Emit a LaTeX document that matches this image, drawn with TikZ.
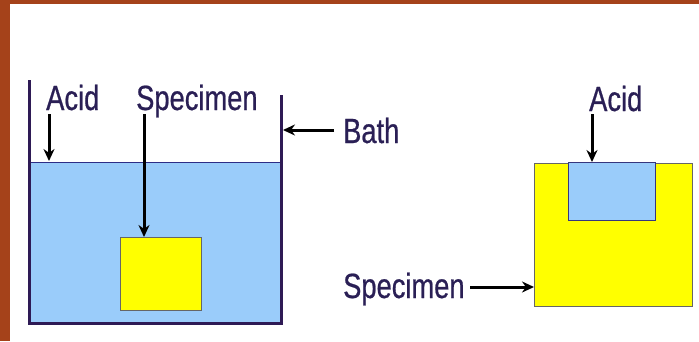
\documentclass[tikz,border=0pt]{standalone}
\usepackage{fontspec}
\newfontfamily\labfont[FakeStretch=0.78,FakeBold=0.6]{Liberation Sans}
\usetikzlibrary{arrows.meta}
\definecolor{brownframe}{HTML}{A5421A}
\definecolor{acidblue}{HTML}{9ACCFA}
\definecolor{specyellow}{HTML}{FFFF00}
\definecolor{labcol}{HTML}{2A1F55}
\definecolor{wallcol}{HTML}{2E1A55}
\tikzset{
  lab/.style={font=\labfont\fontsize{35}{35}\selectfont, text=labcol, inner sep=0pt, anchor=base west},
  ptr/.style={draw=black, line width=3pt, -{Stealth[length=12pt,width=11pt]}},
  wall/.style={draw=wallcol, line width=3pt},
  yellowbox/.style={fill=specyellow, draw=gray!80!black, line width=0.8pt, inner sep=0pt, anchor=north west},
  bluebox/.style={fill=acidblue, draw=gray!60!blue!70!black, line width=0.8pt, inner sep=0pt, anchor=north west}
}
\begin{document}
\begin{tikzpicture}[x=1pt,y=-1pt]
\useasboundingbox (0,0) rectangle (699,341);
\fill[white] (0,0) rectangle (699,341);
% frame
\fill[brownframe] (0,0) rectangle (699,4);
\fill[brownframe] (0,0) rectangle (10,341);
% bath liquid
\node[fill=acidblue, inner sep=0pt, minimum width=251pt, minimum height=161pt, anchor=north west] (liquid) at (30,162) {};
\draw[draw=gray!50!blue!70!black, line width=1pt] (liquid.north west) -- (liquid.north east);
% specimen in bath
\node[yellowbox, minimum width=81pt, minimum height=73pt] (spec1) at (120,237) {};
% walls
\coordinate (wtl) at (29.5,80);
\coordinate (wbl) at (29.5,323);
\coordinate (wbr) at (281,323);
\coordinate (wtr) at (281,95);
\draw[wall] (wtl) -- (wbl) -- (wbr) -- (wtr);
% labels left
\node[lab] (acid1) at (46,110) {Acid};
\node[lab] (specL1) at (136,110) {Specimen};
\node[lab] (bath) at (343,143) {Bath};
% arrows left
\coordinate (acid1tip) at (49,161);
\draw[ptr] (49,114) -- (acid1tip);
\draw[ptr] (144,114) -- (spec1.north west -| 144,0);
\coordinate (bathtip) at (283,130);
\draw[ptr] (bath.west |- 0,130) ++(-9,0) -- (bathtip);
% right diagram
\node[yellowbox, minimum width=158pt, minimum height=143pt] (spec2) at (534,163) {};
\node[bluebox, minimum width=87pt, minimum height=58pt] (acid2box) at (568,162) {};
\node[lab] (acid2) at (589,111) {Acid};
\draw[ptr] (592,114) -- (acid2box.north west -| 592,0);
\node[lab] (specL2) at (343,298) {Specimen};
\draw[ptr] (470,287) -- (spec2.west |- 0,287);
\end{tikzpicture}
\end{document}
